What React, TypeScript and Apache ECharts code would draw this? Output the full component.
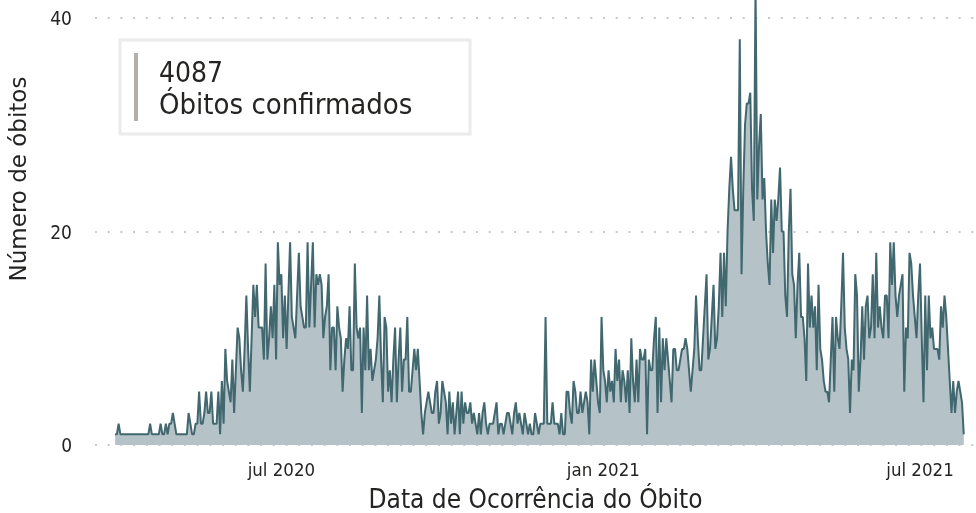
import React, { useEffect, useRef } from "react";
import * as echarts from "echarts";

// ---- data ----
const startDate = "2020-03-28";

const deaths2020 = [
  1, 1, 2, 1, 1, 1, 1, 1, 1, 1,
  1, 1, 1, 1, 1, 1, 1, 1, 1, 1,
  2, 1, 1, 1, 1, 1, 2, 1, 1, 2,
  1, 2, 2, 3, 2, 1, 1, 1, 1, 1,
  1, 1, 3, 2, 1, 1, 2, 2, 5, 2,
  2, 3, 5, 3, 3, 5, 2, 2, 2, 5,
  1, 6, 2, 9, 6, 5, 4, 8, 3, 7,
  11, 10, 7, 5, 9, 14, 9, 5, 10, 15,
  12, 15, 11, 11, 11, 8, 17, 8, 10, 13,
  10, 15, 8, 19, 15, 16, 10, 14, 9, 14,
  19, 12, 11, 10, 14, 18, 13, 12, 11, 11,
  19, 11, 15, 19, 11, 16, 15, 16, 15, 10,
  12, 13, 16, 7, 11, 11, 7, 13, 11, 10,
  5, 8, 10, 9, 13, 7, 7, 17, 11, 10,
  11, 3, 11, 7, 14, 7, 9, 6, 7, 8,
  10, 14, 8, 4, 12, 11, 5, 7, 4, 8,
  11, 4, 8, 11, 5, 8, 8, 12, 5, 5,
  7, 9, 7, 9, 6, 3, 1, 3, 4, 5,
  4, 3, 3, 5, 6, 2, 3, 6, 5, 4,
  1, 5, 2, 4, 1, 3, 5, 1, 5, 2,
  4, 3, 3, 4, 2, 3, 2, 1, 3, 1,
  3, 4, 2, 1, 2, 2, 2, 3, 4, 1,
  2, 2, 1, 2, 3, 3, 2, 1, 3, 4,
  2, 3, 2, 1, 3, 2, 1, 2, 1, 1,
  3, 2, 1, 2, 2, 2, 12, 2, 2, 2,
  4, 2, 2, 2, 1, 3, 1, 1, 5, 5,
  3, 2, 6, 5, 3, 3, 5, 3, 4, 5,
  4, 1, 8, 5, 8, 6, 4, 3, 12,
];

const deaths2021 = [
  7, 6, 4, 7, 5, 6, 4, 9, 6, 8,
  4, 7, 6, 4, 7, 3, 10, 6, 4, 8,
  4, 9, 8, 8, 9, 1, 8, 7, 7, 10,
  12, 3, 11, 4, 10, 7, 10, 8, 6, 4,
  9, 9, 7, 7, 8, 9, 9, 10, 9, 7,
  5, 7, 9, 14, 10, 7, 7, 10, 13, 16,
  8, 9, 12, 15, 9, 10, 13, 18, 12, 18,
  13, 20, 24, 27, 24, 22, 22, 22, 38, 16,
  24, 30, 32, 32, 33, 24, 21, 43, 23, 28,
  31, 23, 25, 20, 17, 15, 23, 18, 23, 21,
  23, 26, 20, 20, 14, 12, 20, 24, 16, 15,
  10, 15, 18, 12, 12, 10, 6, 17, 11, 14,
  11, 13, 7, 15, 9, 8, 6, 5, 5, 4,
  8, 12, 5, 12, 10, 9, 13, 18, 11, 9,
  8, 3, 8, 7, 16, 14, 5, 8, 13, 8,
  13, 14, 10, 11, 16, 10, 18, 11, 13, 11,
  10, 14, 14, 10, 19, 15, 19, 14, 12, 14,
  15, 16, 5, 11, 10, 18, 17, 14, 12, 10,
  14, 17, 10, 4, 14, 7, 14, 10, 11, 9,
  9, 9, 8, 13, 11, 14, 12, 9, 6, 3,
  6, 3, 5, 6, 5, 4, 1,
];

const xTickDates = ["2020-07-01", "2021-01-01", "2021-07-01"];
const xTickLabels = ["jul 2020", "jan 2021", "jul 2021"];
const yMin = 0;
const yMax = 40;
const yStep = 20;

const totalValue = "4087";
const totalCaption = "Óbitos confirmados";
const xTitle = "Data de Ocorrência do Óbito";
const yTitle = "Número de óbitos";

// ---- helpers ----
const DAY = 86400000;
const toUTC = (s: string) => {
  const [y, m, d] = s.split("-").map(Number);
  return Date.UTC(y, m - 1, d);
};
const dayOffset = (s: string) => Math.round((toUTC(s) - toUTC(startDate)) / DAY);

const LINE = "#41676f";
const AREA = "#b5c3c8";
const TEXT = "#252423";
const DIN = "'DejaVu Sans Condensed', 'DejaVu Sans', sans-serif";

export default function App() {
  const ref = useRef<HTMLDivElement>(null);

  useEffect(() => {
    if (!ref.current) return;
    const chart = echarts.init(ref.current, undefined, { renderer: "svg" });

    const allDeaths = [...deaths2020, ...deaths2021];
    const data = allDeaths.map((v, i) => [i, v]);
    const tickDays = xTickDates.map(dayOffset);
    const labelMap: Record<number, string> = {};
    tickDays.forEach((d, i) => (labelMap[d] = xTickLabels[i]));

    chart.setOption({
      animation: false,
      grid: {
        left: 95,
        right: 0,
        top: 18,
        bottom: 68,
        containLabel: false,
        outerBoundsMode: "none",
      },
      xAxis: {
        type: "value",
        min: -11.5,
        max: 492,
        axisLine: { show: false },
        axisTick: { show: false },
        splitLine: { show: false },
        axisLabel: {
          customValues: tickDays,
          formatter: (v: number) => labelMap[Math.round(v)] ?? "",
          color: TEXT,
          fontSize: 18.5,
          fontFamily: DIN,
          margin: 15,
        },
        name: xTitle,
        nameLocation: "middle",
        nameGap: 41,
        nameTextStyle: { color: TEXT, fontSize: 26, fontFamily: DIN },
      },
      yAxis: {
        type: "value",
        min: yMin,
        max: yMax,
        interval: yStep,
        axisLine: { show: false },
        axisTick: { show: false },
        axisLabel: {
          color: TEXT,
          fontSize: 19,
          fontFamily: DIN,
          margin: 23,
        },
        splitLine: {
          show: true,
          lineStyle: { color: "#c8c8c8", width: 2, type: [2, 10.7] },
        },
      },
      graphic: [
        {
          type: "text",
          x: 18,
          y: 179,
          rotation: Math.PI / 2,
          style: {
            text: yTitle,
            fill: TEXT,
            fontSize: 23,
            fontFamily: "'DejaVu Sans', sans-serif",
            align: "center",
            verticalAlign: "middle",
          },
        },
        {
          type: "rect",
          shape: { x: 120, y: 40, width: 350, height: 94 },
          style: { fill: "#ffffff", stroke: "#ebebeb", lineWidth: 3 },
          z: 10,
        },
        {
          type: "rect",
          shape: { x: 134, y: 53, width: 4, height: 68 },
          style: { fill: "#b3aeab" },
          z: 11,
        },
        {
          type: "text",
          x: 159,
          y: 72,
          style: {
            text: totalValue,
            fill: TEXT,
            fontSize: 28,
            fontFamily: DIN,
            align: "left",
            verticalAlign: "middle",
          },
          z: 11,
        },
        {
          type: "text",
          x: 159,
          y: 104,
          style: {
            text: totalCaption,
            fill: TEXT,
            fontSize: 29,
            fontFamily: DIN,
            align: "left",
            verticalAlign: "middle",
          },
          z: 11,
        },
      ],
      series: [
        {
          type: "line",
          data,
          showSymbol: false,
          clip: false,
          silent: true,
          lineStyle: { color: LINE, width: 2 },
          areaStyle: { color: AREA, opacity: 1 },
        },
      ],
    });

    return () => chart.dispose();
  }, []);

  return (
    <div
      ref={ref}
      style={{ position: "fixed", left: 0, top: 0, width: 976, height: 513 }}
    />
  );
}
